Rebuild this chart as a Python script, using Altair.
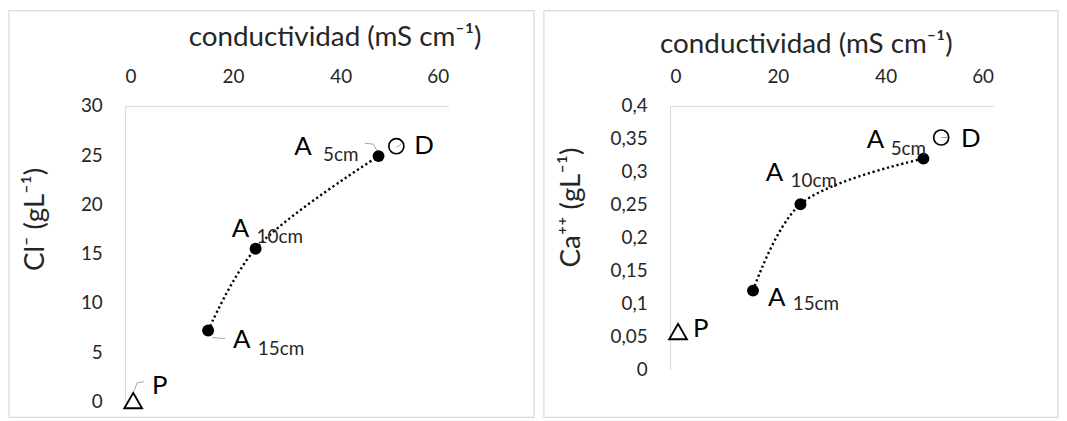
import altair as alt
import pandas as pd

# ---------------- data ----------------
points = ["A5", "D", "A10", "A15", "P"]
conductividad = [47.0, 50.3, 24.2, 15.4, 1.5]
cloruro = [24.9, 25.9, 15.5, 7.2, 0.1]
calcio = [0.32, 0.352, 0.251, 0.12, 0.058]
main_labels = ["A", "D", "A", "A", "P"]
sub_labels = ["5cm", "", "10cm", "15cm", ""]

x_ticks = [0, 20, 40, 60]
cl_ticks = [0, 5, 10, 15, 20, 25, 30]
ca_ticks = [0, 0.05, 0.1, 0.15, 0.2, 0.25, 0.3, 0.35, 0.4]

x_title = "conductividad (mS cm⁻¹)"
cl_title = "Cl⁻ (gL⁻¹)"
ca_title = "Ca⁺⁺ (gL⁻¹)"

df = pd.DataFrame({
    "point": points,
    "cond": conductividad,
    "cl": cloruro,
    "ca": calcio,
    "main": main_labels,
    "sub": sub_labels,
})

FONT = "Lato"
TXT = "#262626"
AXC = "#d9d9d9"
LEAD = "#a6a6a6"


def panel(yfield, ydomain, yticks, ytitle, w, h, frame, xt, yt, lab, leaders, label_expr):
    x = alt.X("cond:Q", scale=alt.Scale(domain=[0, 60], nice=False, zero=False),
              axis=alt.Axis(orient="top", values=x_ticks, title=x_title, ticks=False,
                            grid=False, domainColor=AXC, labelPadding=19,
                            titleX=xt[0], titleY=xt[1], titleAlign="center",
                            titleBaseline="alphabetic", titleAngle=0))
    y = alt.Y(f"{yfield}:Q", scale=alt.Scale(domain=ydomain, nice=False, zero=False),
              axis=alt.Axis(orient="left", values=yticks, title=ytitle, ticks=False,
                            grid=False, domainColor=AXC, labelPadding=23,
                            labelExpr=label_expr,
                            titleX=yt[0], titleY=yt[1], titleAlign="center",
                            titleBaseline="middle", titleAngle=270))
    base = alt.Chart(df)
    layers = []
    # panel frame (decoration)
    layers.append(
        alt.Chart(alt.Data(values=[{"f": 1}])).mark_rect(
            filled=False, stroke=AXC, strokeWidth=1.2
        ).encode(x=alt.value(frame[0]), x2=alt.value(frame[1]),
                 y=alt.value(frame[2]), y2=alt.value(frame[3]))
    )
    # dotted smoothed line through the A points
    layers.append(
        base.transform_filter(
            alt.FieldOneOfPredicate(field="point", oneOf=["A5", "A10", "A15"])
        ).mark_line(interpolate="catmull-rom", color="black", strokeWidth=2.4,
                    strokeDash=[2.2, 2.8]).encode(x=x, y=y, order="cond:Q")
    )
    # leader lines
    for pt, (x1, y1, x2, y2) in leaders:
        layers.append(
            base.transform_filter(alt.datum.point == pt).mark_rule(
                color=LEAD, strokeWidth=1, xOffset=x1, yOffset=y1,
                x2Offset=x2, y2Offset=y2
            ).encode(x=x, y=y, x2="cond:Q", y2=f"{yfield}:Q")
        )
    # filled circles
    layers.append(
        base.transform_filter(
            alt.FieldOneOfPredicate(field="point", oneOf=["A5", "A10", "A15"])
        ).mark_point(shape="circle", filled=True, color="black", size=145, opacity=1).encode(x=x, y=y)
    )
    # open circle D
    layers.append(
        base.transform_filter(alt.datum.point == "D").mark_point(
            shape="circle", filled=False, color="black", strokeWidth=1.7, size=230, opacity=1
        ).encode(x=x, y=y)
    )
    # open triangle P
    layers.append(
        base.transform_filter(alt.datum.point == "P").mark_point(
            shape="triangle-up", filled=False, color="black", strokeWidth=1.9, size=320, opacity=1
        ).encode(x=x, y=y)
    )
    # labels
    for pt, (mdx, mdy, sdx, sdy) in lab.items():
        layers.append(
            base.transform_filter(alt.datum.point == pt).mark_text(
                align="left", baseline="alphabetic", dx=mdx, dy=mdy,
                font=FONT, fontSize=26, color="black"
            ).encode(x=x, y=y, text="main:N")
        )
        if sdx is not None:
            layers.append(
                base.transform_filter(alt.datum.point == pt).mark_text(
                    align="left", baseline="alphabetic", dx=sdx, dy=sdy,
                    font=FONT, fontSize=19, color=TXT
                ).encode(x=x, y=y, text="sub:N")
            )
    return alt.layer(*layers).properties(width=w, height=h)


left = panel(
    "cl", [0, 30], cl_ticks, cl_title, 326, 298,
    frame=(-117, 412, -96, 314),
    xt=(211, -61), yt=(-90, 114),
    lab={"A5": (-85, -1, -56, 5), "D": (18, 8, None, None),
         "A10": (-24, -12, 1, -6), "A15": (25, 18, 50, 25),
         "P": (19, -7, None, None)},
    leaders=[("A5", (-14, -13, -5, -12)), ("A5", (-5, -12, -1, -4)),
             ("A15", (4, 7, 17, 8)),
             ("P", (1, -10, 4, -18)), ("P", (4, -18, 11, -19)),
             ("D", (0, 1, 5, -2))],
    label_expr="datum.label",
)

right = panel(
    "ca", [0, 0.4], ca_ticks, ca_title, 326, 266,
    frame=(-127, 391, -96, 314),
    xt=(137, -54), yt=(-99, 102),
    lab={"A5": (-57, -11, -33, -4), "D": (20, 10, None, None),
         "A10": (-35, -23, -10, -17), "A15": (15, 15, 40, 20),
         "P": (15, 6, None, None)},
    leaders=[("D", (0, 0, 8, 0))],
    label_expr="replace(format(datum.value, '.2~f'), '.', ',')",
)

chart = alt.hconcat(left, right, spacing=8).properties(padding=0).configure_view(
    stroke=None
).configure_axis(
    labelFont=FONT, labelFontSize=19, labelColor=TXT,
    titleFont=FONT, titleFontSize=28, titleColor=TXT, titleFontWeight="normal",
    domainWidth=1,
)

chart.save("out.html", embed_options={"renderer": "svg", "actions": False})
